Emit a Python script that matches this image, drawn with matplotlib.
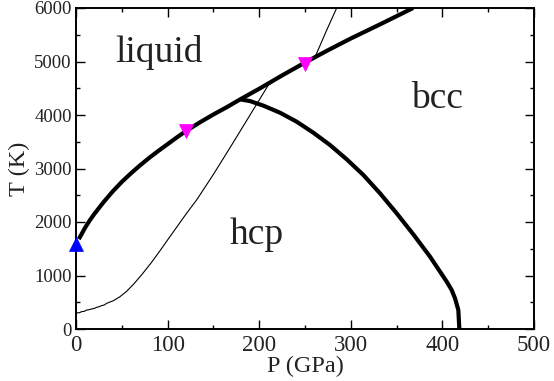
import numpy as np
import matplotlib
matplotlib.use("Agg")
import matplotlib.pyplot as plt
from matplotlib.ticker import MultipleLocator

plt.rcParams['font.family'] = ['Liberation Serif', 'DejaVu Serif']

# melting curve (thick)
melt_P = [3, 5, 10, 15, 20, 30, 40, 50, 60, 70, 80, 90, 100, 110, 120, 135, 150, 165, 179,
          200, 225, 250, 275, 300, 335, 368]
melt_T = [1680, 1740, 1895, 2030, 2150, 2370, 2570, 2750, 2910, 3060, 3200, 3330, 3455, 3580,
          3700, 3860, 4010, 4150, 4290, 4490, 4740, 4980, 5210, 5430, 5720, 6000]

# hcp-bcc boundary (thick)
hb_P = [179, 190, 204.5, 222.7, 240.9, 259.1, 277.3, 295.5, 313.7, 331.9, 350.1, 368.2,
        386.5, 395.5, 404.7, 410.1, 413.8, 417.4, 418.5]
hb_T = [4293, 4260, 4175, 4043, 3875, 3669, 3439, 3172, 2879, 2536, 2162, 1770,
        1352, 1121, 885, 729, 573, 355, 0]

# thin curve
thin_P = [0, 4, 6, 9, 11.6, 14, 17, 20, 22.5, 25, 28, 31, 33.5, 40.8, 48, 55, 63, 72, 82, 92,
          100, 110, 120, 132, 150, 160, 170, 180, 190, 200, 210, 225, 250, 261, 273, 284.6]
thin_T = [300, 305, 324, 330, 355, 360, 374, 385, 405, 415, 436, 450, 480, 529, 604, 700, 840,
          1020, 1235, 1470, 1665, 1905, 2145, 2420, 2890, 3165, 3440, 3720, 4000, 4280, 4560,
          4740, 4980, 5085, 5560, 6000]

# experimental points
up_P, up_T = [0], [1590]
down_P, down_T = [120, 250], [3710, 4950]

fig = plt.figure(figsize=(5.54, 3.81), dpi=100)
ax = fig.add_axes([76/554, 1 - 329/381, 458/554, 321/381])

ax.plot(thin_P, thin_T, color='black', lw=0.8, zorder=2)
ax.plot(melt_P, melt_T, color='black', lw=3.0, zorder=3, solid_capstyle='butt')
ax.plot(hb_P, hb_T, color='black', lw=3.0, zorder=3, solid_capstyle='butt')

ax.plot(up_P, up_T, '^', color='blue', ms=10.5, mew=0.5, mec='blue', clip_on=False, zorder=5)
ax.plot(down_P, down_T, 'v', color='magenta', ms=10.5, mew=0.5, mec='magenta', zorder=5)

ax.text(42.6, 4990, 'liquid', fontsize=27, color='#222222')
ax.text(366, 4140, 'bcc', fontsize=27, color='#222222')
ax.text(168, 1580, 'hcp', fontsize=27, color='#222222')

ax.set_xlim(0, 500)
ax.set_ylim(0, 6000)
ax.xaxis.set_major_locator(MultipleLocator(100))
ax.xaxis.set_minor_locator(MultipleLocator(50))
ax.yaxis.set_major_locator(MultipleLocator(1000))
ax.yaxis.set_minor_locator(MultipleLocator(500))

ax.tick_params(which='both', direction='in', top=True, right=True, width=1.0)
ax.tick_params(which='major', length=6.5)
ax.tick_params(which='minor', length=3.2)
ax.tick_params(axis='x', labelsize=16.5, pad=4, labelcolor='#222222')
ax.tick_params(axis='y', labelsize=13.5, pad=3, labelcolor='#222222')
for s in ax.spines.values():
    s.set_linewidth(1.4)

ax.set_xlabel('P (GPa)', fontsize=17.5, labelpad=0, color='#222222')
ax.set_ylabel('T (K)', fontsize=17.5, labelpad=3, color='#222222')

fig.savefig('out.png', dpi=100)
